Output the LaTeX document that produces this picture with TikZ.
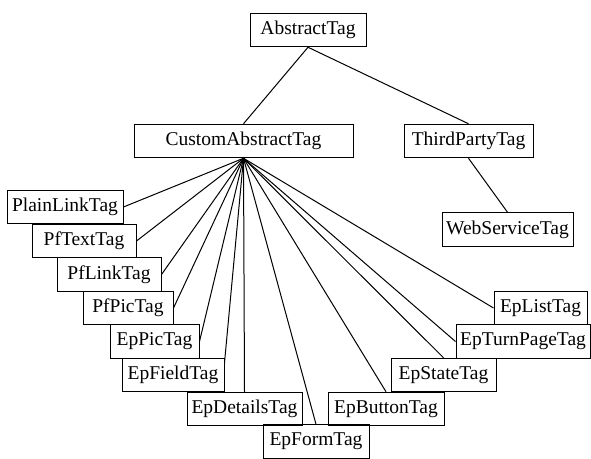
\documentclass[tikz,border=0pt]{standalone}
\usepackage{fontspec}
\setmainfont{Liberation Serif}
\tikzset{
	tag/.style={
			draw, black, line width=1pt, inner sep=0pt, minimum height=33.5pt,
			font=\fontsize{19.5}{23}\selectfont
		}
}

\begin{document}
\begin{tikzpicture}[x=1pt, y=-1pt, line width=1pt]
			\useasboundingbox (0, 0) rectangle (591, 458);

			\node[tag, minimum width=116pt]	(abstract)	at (308, 30)	{AbstractTag};
			\node[tag, minimum width=219pt]	(custom)	at (243.5, 141)	{CustomAbstractTag};
			\node[tag, minimum width=129pt]	(thirdparty)	at (468.5, 141)	{ThirdPartyTag};
			\node[tag, minimum width=131pt]	(webservice)	at (507.5, 229.5)	{WebServiceTag};

			\node[tag, minimum width=116pt]	(plainlink)	at (65, 207)	{PlainLinkTag};
			\node[tag, minimum width=104pt]	(pftext)	at (84, 241)	{PfTextTag};
			\node[tag, minimum width=104pt]	(pflink)	at (109, 274.5)	{PfLinkTag};
			\node[tag, minimum width=90pt]	(pfpic)		at (128, 308)	{PfPicTag};
			\node[tag, minimum width=89pt]	(eppic)		at (154.5, 341.5)	{EpPicTag};
			\node[tag, minimum width=102pt]	(epfield)	at (173, 375)	{EpFieldTag};
			\node[tag, minimum width=115pt]	(epdetails)	at (244.5, 409)	{EpDetailsTag};
			\node[tag, minimum width=106pt]	(epform)	at (316, 441.5)	{EpFormTag};
			\node[tag, minimum width=116pt]	(epbutton)	at (386, 409)	{EpButtonTag};
			\node[tag, minimum width=105pt]	(epstate)	at (443.5, 375)	{EpStateTag};
			\node[tag, minimum width=134pt]	(epturnpage)	at (523, 341.5)	{EpTurnPageTag};
			\node[tag, minimum width=93pt]	(eplist)	at (540.5, 308)	{EpListTag};

			\draw	(abstract.south) to (custom.north);
			\draw	(abstract.south) to (thirdparty.north);
			\draw	(thirdparty.south) to (webservice.north);

			\draw	(custom.south) to (plainlink.east);
			\draw	(custom.south) to (pftext.east);
			\draw	(custom.south) to (pflink.east);
			\draw	(custom.south) to (pfpic.east);
			\draw	(custom.south) to (eppic.east);
			\draw	(custom.south) to ([yshift=-5pt]epfield.north east);
			\draw	(custom.south) to (epdetails.north);
			\draw	(custom.south) to (epform.north);
			\draw	(custom.south) to (epbutton.north);
			\draw	(custom.south) to (epstate.north);
			\draw	(custom.south) to (epturnpage.west);
			\draw	(custom.south) to (eplist.west);
		\end{tikzpicture}
\end{document}
